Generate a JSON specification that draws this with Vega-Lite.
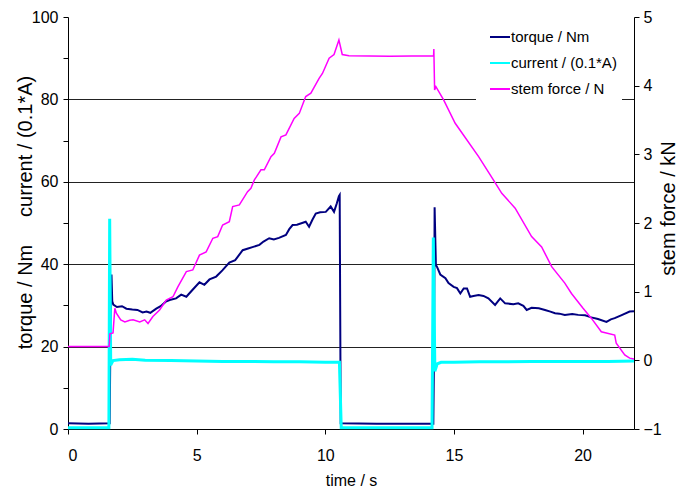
{
  "$schema": "https://vega.github.io/schema/vega-lite/v6.json",
  "autosize": {"type": "none"},
  "padding": {"left": 68, "top": 17, "right": 56, "bottom": 64},
  "width": 566,
  "height": 412,
  "background": "white",
  "config": {
    "view": {"stroke": null},
    "font": "Liberation Sans",
    "axis": {
      "labelFont": "Liberation Sans", "labelFontSize": 16, "labelColor": "black",
      "titleFont": "Liberation Sans", "titleFontWeight": "normal", "titleColor": "black",
      "domainColor": "black", "tickColor": "black", "domainWidth": 1, "tickWidth": 1
    },
    "legend": {"labelFont": "Liberation Sans"}
  },
  "datasets": {
    "torque": [
      {"t": 0, "v": 1.4}, {"t": 0.8, "v": 1.3}, {"t": 1.62, "v": 1.4}, {"t": 1.66, "v": 30}, {"t": 1.69, "v": 37.5}, {"t": 1.72, "v": 31}, {"t": 1.76, "v": 30.2},
      {"t": 1.9, "v": 29.6}, {"t": 2.1, "v": 29.8}, {"t": 2.27, "v": 29.2}, {"t": 2.5, "v": 29.0}, {"t": 2.7, "v": 28.9}, {"t": 2.9, "v": 28.3}, {"t": 3.05, "v": 28.5},
      {"t": 3.2, "v": 28.2}, {"t": 3.43, "v": 29.2}, {"t": 3.6, "v": 29.8}, {"t": 3.8, "v": 30.9}, {"t": 3.95, "v": 31.3}, {"t": 4.2, "v": 31.7}, {"t": 4.4, "v": 32.6},
      {"t": 4.6, "v": 32.1}, {"t": 4.8, "v": 33.5}, {"t": 5.11, "v": 35.6}, {"t": 5.3, "v": 35.0}, {"t": 5.5, "v": 36.3}, {"t": 5.76, "v": 37.0}, {"t": 6.0, "v": 38.5},
      {"t": 6.27, "v": 40.4}, {"t": 6.5, "v": 41.0}, {"t": 6.79, "v": 43.4}, {"t": 7.0, "v": 43.8}, {"t": 7.2, "v": 44.2}, {"t": 7.44, "v": 44.7}, {"t": 7.6, "v": 45.5},
      {"t": 7.82, "v": 46.3}, {"t": 8.0, "v": 46.0}, {"t": 8.2, "v": 46.4}, {"t": 8.47, "v": 47.1}, {"t": 8.6, "v": 48.5}, {"t": 8.73, "v": 49.5}, {"t": 8.9, "v": 49.6},
      {"t": 9.1, "v": 50.0}, {"t": 9.24, "v": 50.3}, {"t": 9.37, "v": 49.1}, {"t": 9.5, "v": 50.8}, {"t": 9.63, "v": 52.3}, {"t": 9.8, "v": 52.6}, {"t": 10.02, "v": 52.7},
      {"t": 10.21, "v": 54.0}, {"t": 10.34, "v": 52.7}, {"t": 10.45, "v": 54.8}, {"t": 10.53, "v": 56.5}, {"t": 10.56, "v": 56.8}, {"t": 10.6, "v": 1.4}, {"t": 12, "v": 1.3},
      {"t": 14.2, "v": 1.3}, {"t": 14.23, "v": 20}, {"t": 14.25, "v": 53.8}, {"t": 14.3, "v": 39.8}, {"t": 14.34, "v": 39.4}, {"t": 14.47, "v": 37.5}, {"t": 14.67, "v": 36.6},
      {"t": 14.79, "v": 35.4}, {"t": 14.99, "v": 34.5}, {"t": 15.12, "v": 34.2}, {"t": 15.25, "v": 32.9}, {"t": 15.38, "v": 34.1}, {"t": 15.51, "v": 34.1}, {"t": 15.63, "v": 32.1},
      {"t": 15.76, "v": 32.3}, {"t": 15.96, "v": 32.5}, {"t": 16.15, "v": 32.3}, {"t": 16.34, "v": 31.7}, {"t": 16.6, "v": 30.1}, {"t": 16.8, "v": 31.7}, {"t": 16.99, "v": 30.5},
      {"t": 17.31, "v": 30.3}, {"t": 17.5, "v": 30.5}, {"t": 17.7, "v": 29.9}, {"t": 17.83, "v": 28.9}, {"t": 18.02, "v": 29.4}, {"t": 18.3, "v": 29.3}, {"t": 18.54, "v": 28.9},
      {"t": 18.75, "v": 28.5}, {"t": 18.93, "v": 28.1}, {"t": 19.1, "v": 28.0}, {"t": 19.31, "v": 27.7}, {"t": 19.6, "v": 27.9}, {"t": 19.83, "v": 27.7}, {"t": 20.1, "v": 27.6},
      {"t": 20.34, "v": 27.1}, {"t": 20.6, "v": 26.7}, {"t": 20.93, "v": 26.0}, {"t": 21.1, "v": 26.6}, {"t": 21.25, "v": 26.9}, {"t": 21.5, "v": 27.6}, {"t": 21.83, "v": 28.5},
      {"t": 22, "v": 28.6}
    ],
    "current": [
      {"t": 0, "v": 0.3}, {"t": 1.59, "v": 0.3}, {"t": 1.62, "v": 51.0}, {"t": 1.66, "v": 15.5}, {"t": 1.75, "v": 16.6}, {"t": 2.0, "v": 16.8}, {"t": 2.5, "v": 16.9},
      {"t": 3.0, "v": 16.7}, {"t": 4, "v": 16.6}, {"t": 5, "v": 16.5}, {"t": 6, "v": 16.4}, {"t": 7, "v": 16.4}, {"t": 8, "v": 16.3}, {"t": 9, "v": 16.3}, {"t": 10, "v": 16.2},
      {"t": 10.55, "v": 16.2}, {"t": 10.62, "v": 0.3}, {"t": 14.15, "v": 0.3}, {"t": 14.2, "v": 46.5}, {"t": 14.26, "v": 14.0}, {"t": 14.35, "v": 15.8}, {"t": 14.5, "v": 16.2},
      {"t": 15, "v": 16.2}, {"t": 16, "v": 16.3}, {"t": 17, "v": 16.3}, {"t": 18, "v": 16.4}, {"t": 19, "v": 16.4}, {"t": 20, "v": 16.4}, {"t": 21, "v": 16.4}, {"t": 22, "v": 16.5}
    ],
    "force": [
      {"t": 0, "f": 0.2}, {"t": 1.6, "f": 0.2}, {"t": 1.63, "f": 0.386}, {"t": 1.75, "f": 0.4}, {"t": 1.82, "f": 0.758}, {"t": 1.88, "f": 0.686}, {"t": 2.05, "f": 0.59},
      {"t": 2.21, "f": 0.56}, {"t": 2.4, "f": 0.584}, {"t": 2.53, "f": 0.59}, {"t": 2.79, "f": 0.56}, {"t": 2.98, "f": 0.59}, {"t": 3.11, "f": 0.536}, {"t": 3.3, "f": 0.638},
      {"t": 3.56, "f": 0.734}, {"t": 3.82, "f": 0.878}, {"t": 4.08, "f": 0.926}, {"t": 4.27, "f": 1.07}, {"t": 4.6, "f": 1.292}, {"t": 4.85, "f": 1.316}, {"t": 5.11, "f": 1.532},
      {"t": 5.37, "f": 1.58}, {"t": 5.63, "f": 1.778}, {"t": 5.82, "f": 1.802}, {"t": 6.01, "f": 1.97}, {"t": 6.27, "f": 2.018}, {"t": 6.4, "f": 2.24}, {"t": 6.66, "f": 2.264},
      {"t": 6.98, "f": 2.456}, {"t": 7.11, "f": 2.504}, {"t": 7.24, "f": 2.624}, {"t": 7.5, "f": 2.774}, {"t": 7.63, "f": 2.774}, {"t": 7.89, "f": 2.966}, {"t": 8.02, "f": 3.014},
      {"t": 8.28, "f": 3.254}, {"t": 8.47, "f": 3.284}, {"t": 8.79, "f": 3.524}, {"t": 8.99, "f": 3.596}, {"t": 9.24, "f": 3.842}, {"t": 9.44, "f": 3.89}, {"t": 9.76, "f": 4.106},
      {"t": 9.89, "f": 4.178}, {"t": 10.15, "f": 4.4}, {"t": 10.34, "f": 4.454}, {"t": 10.53, "f": 4.664}, {"t": 10.66, "f": 4.454}, {"t": 10.92, "f": 4.436}, {"t": 12.5, "f": 4.43},
      {"t": 14.21, "f": 4.436}, {"t": 14.22, "f": 4.532}, {"t": 14.25, "f": 3.938}, {"t": 14.3, "f": 3.986}, {"t": 14.6, "f": 3.794}, {"t": 15.05, "f": 3.452}, {"t": 15.96, "f": 2.966},
      {"t": 16.54, "f": 2.624}, {"t": 16.86, "f": 2.432}, {"t": 17.38, "f": 2.216}, {"t": 18.02, "f": 1.802}, {"t": 18.41, "f": 1.652}, {"t": 18.8, "f": 1.364}, {"t": 19.31, "f": 1.124},
      {"t": 19.57, "f": 0.974}, {"t": 20.02, "f": 0.758}, {"t": 20.34, "f": 0.614}, {"t": 20.73, "f": 0.416}, {"t": 21.25, "f": 0.368}, {"t": 21.31, "f": 0.248}, {"t": 21.64, "f": 0.08},
      {"t": 21.83, "f": 0.032}, {"t": 22, "f": 0.02}
    ]
  },
  "layer": [
    {
      "layer": [
        {
          "data": {"name": "torque"},
          "mark": {"type": "line", "strokeWidth": 2, "interpolate": "linear"},
          "encoding": {
            "x": {"field": "t", "type": "quantitative", "scale": {"domain": [0, 22], "nice": false},
              "axis": {"values": [0, 5, 10, 15, 20], "title": "time / s", "titleFontSize": 16, "tickSize": 5, "labelPadding": 13, "titlePadding": 9, "grid": false}},
            "y": {"field": "v", "type": "quantitative", "scale": {"domain": [0, 100], "nice": false},
              "axis": {
                "orient": "left",
                "values": [0, 5, 10, 15, 20, 25, 30, 35, 40, 45, 50, 55, 60, 65, 70, 75, 80, 85, 90, 95, 100],
                "labelExpr": "datum.value % 20 === 0 ? datum.label : ''",
                "labelOverlap": false,
                "tickSize": 5,
                "labelPadding": 5,
                "grid": true,
                "gridColor": "#222222",
                "gridOpacity": {"condition": {"test": "datum.value % 20 === 0 && datum.value > 0 && datum.value < 100", "value": 1}, "value": 0},
                "title": "torque / Nm\u00a0\u00a0\u00a0\u00a0\u00a0current / (0.1*A)",
                "titleFontSize": 20,
                "titleAngle": 270,
                "titleX": -43,
                "titleY": 195,
                "titleAlign": "center",
                "titleBaseline": "middle"
              }},
            "color": {"datum": "torque / Nm", "type": "nominal",
              "scale": {"domain": ["torque / Nm", "current / (0.1*A)", "stem force / N"], "range": ["#000080", "#00ffff", "#ff00ff"]},
              "legend": {"title": null, "orient": "none", "legendX": 408, "legendY": 4, "fillColor": "white", "padding": 5,
                "symbolType": "stroke", "symbolSize": 400, "symbolStrokeWidth": 2, "symbolOffset": 8,
                "labelFontSize": 15, "labelColor": "black", "labelOffset": 0, "rowPadding": 7}}
          }
        },
        {
          "data": {"name": "current"},
          "mark": {"type": "line", "strokeWidth": 3, "interpolate": "linear"},
          "encoding": {
            "x": {"field": "t", "type": "quantitative", "scale": {"domain": [0, 22], "nice": false},
              "axis": {"values": [0, 5, 10, 15, 20], "title": "time / s", "titleFontSize": 16, "tickSize": 5, "labelPadding": 13, "titlePadding": 9, "grid": false}},
            "y": {"field": "v", "type": "quantitative", "scale": {"domain": [0, 100], "nice": false}},
            "color": {"datum": "current / (0.1*A)", "type": "nominal"}
          }
        }
      ]
    },
    {
      "data": {"name": "force"},
      "mark": {"type": "line", "strokeWidth": 1.5, "interpolate": "linear"},
      "encoding": {
        "x": {"field": "t", "type": "quantitative", "scale": {"domain": [0, 22], "nice": false}},
        "y": {"field": "f", "type": "quantitative", "scale": {"domain": [-1, 5], "nice": false},
          "axis": {
            "orient": "right",
            "values": [-1, 0, 1, 2, 3, 4, 5],
            "grid": false,
            "tickSize": 5,
            "labelPadding": 4,
            "title": "stem force / kN",
            "titleFontSize": 20,
            "titleAngle": 270,
            "titleX": 34,
            "titleY": 191,
            "titleAlign": "center",
            "titleBaseline": "middle"
          }},
        "color": {"datum": "stem force / N", "type": "nominal"}
      }
    }
  ],
  "resolve": {"scale": {"y": "independent"}}
}
